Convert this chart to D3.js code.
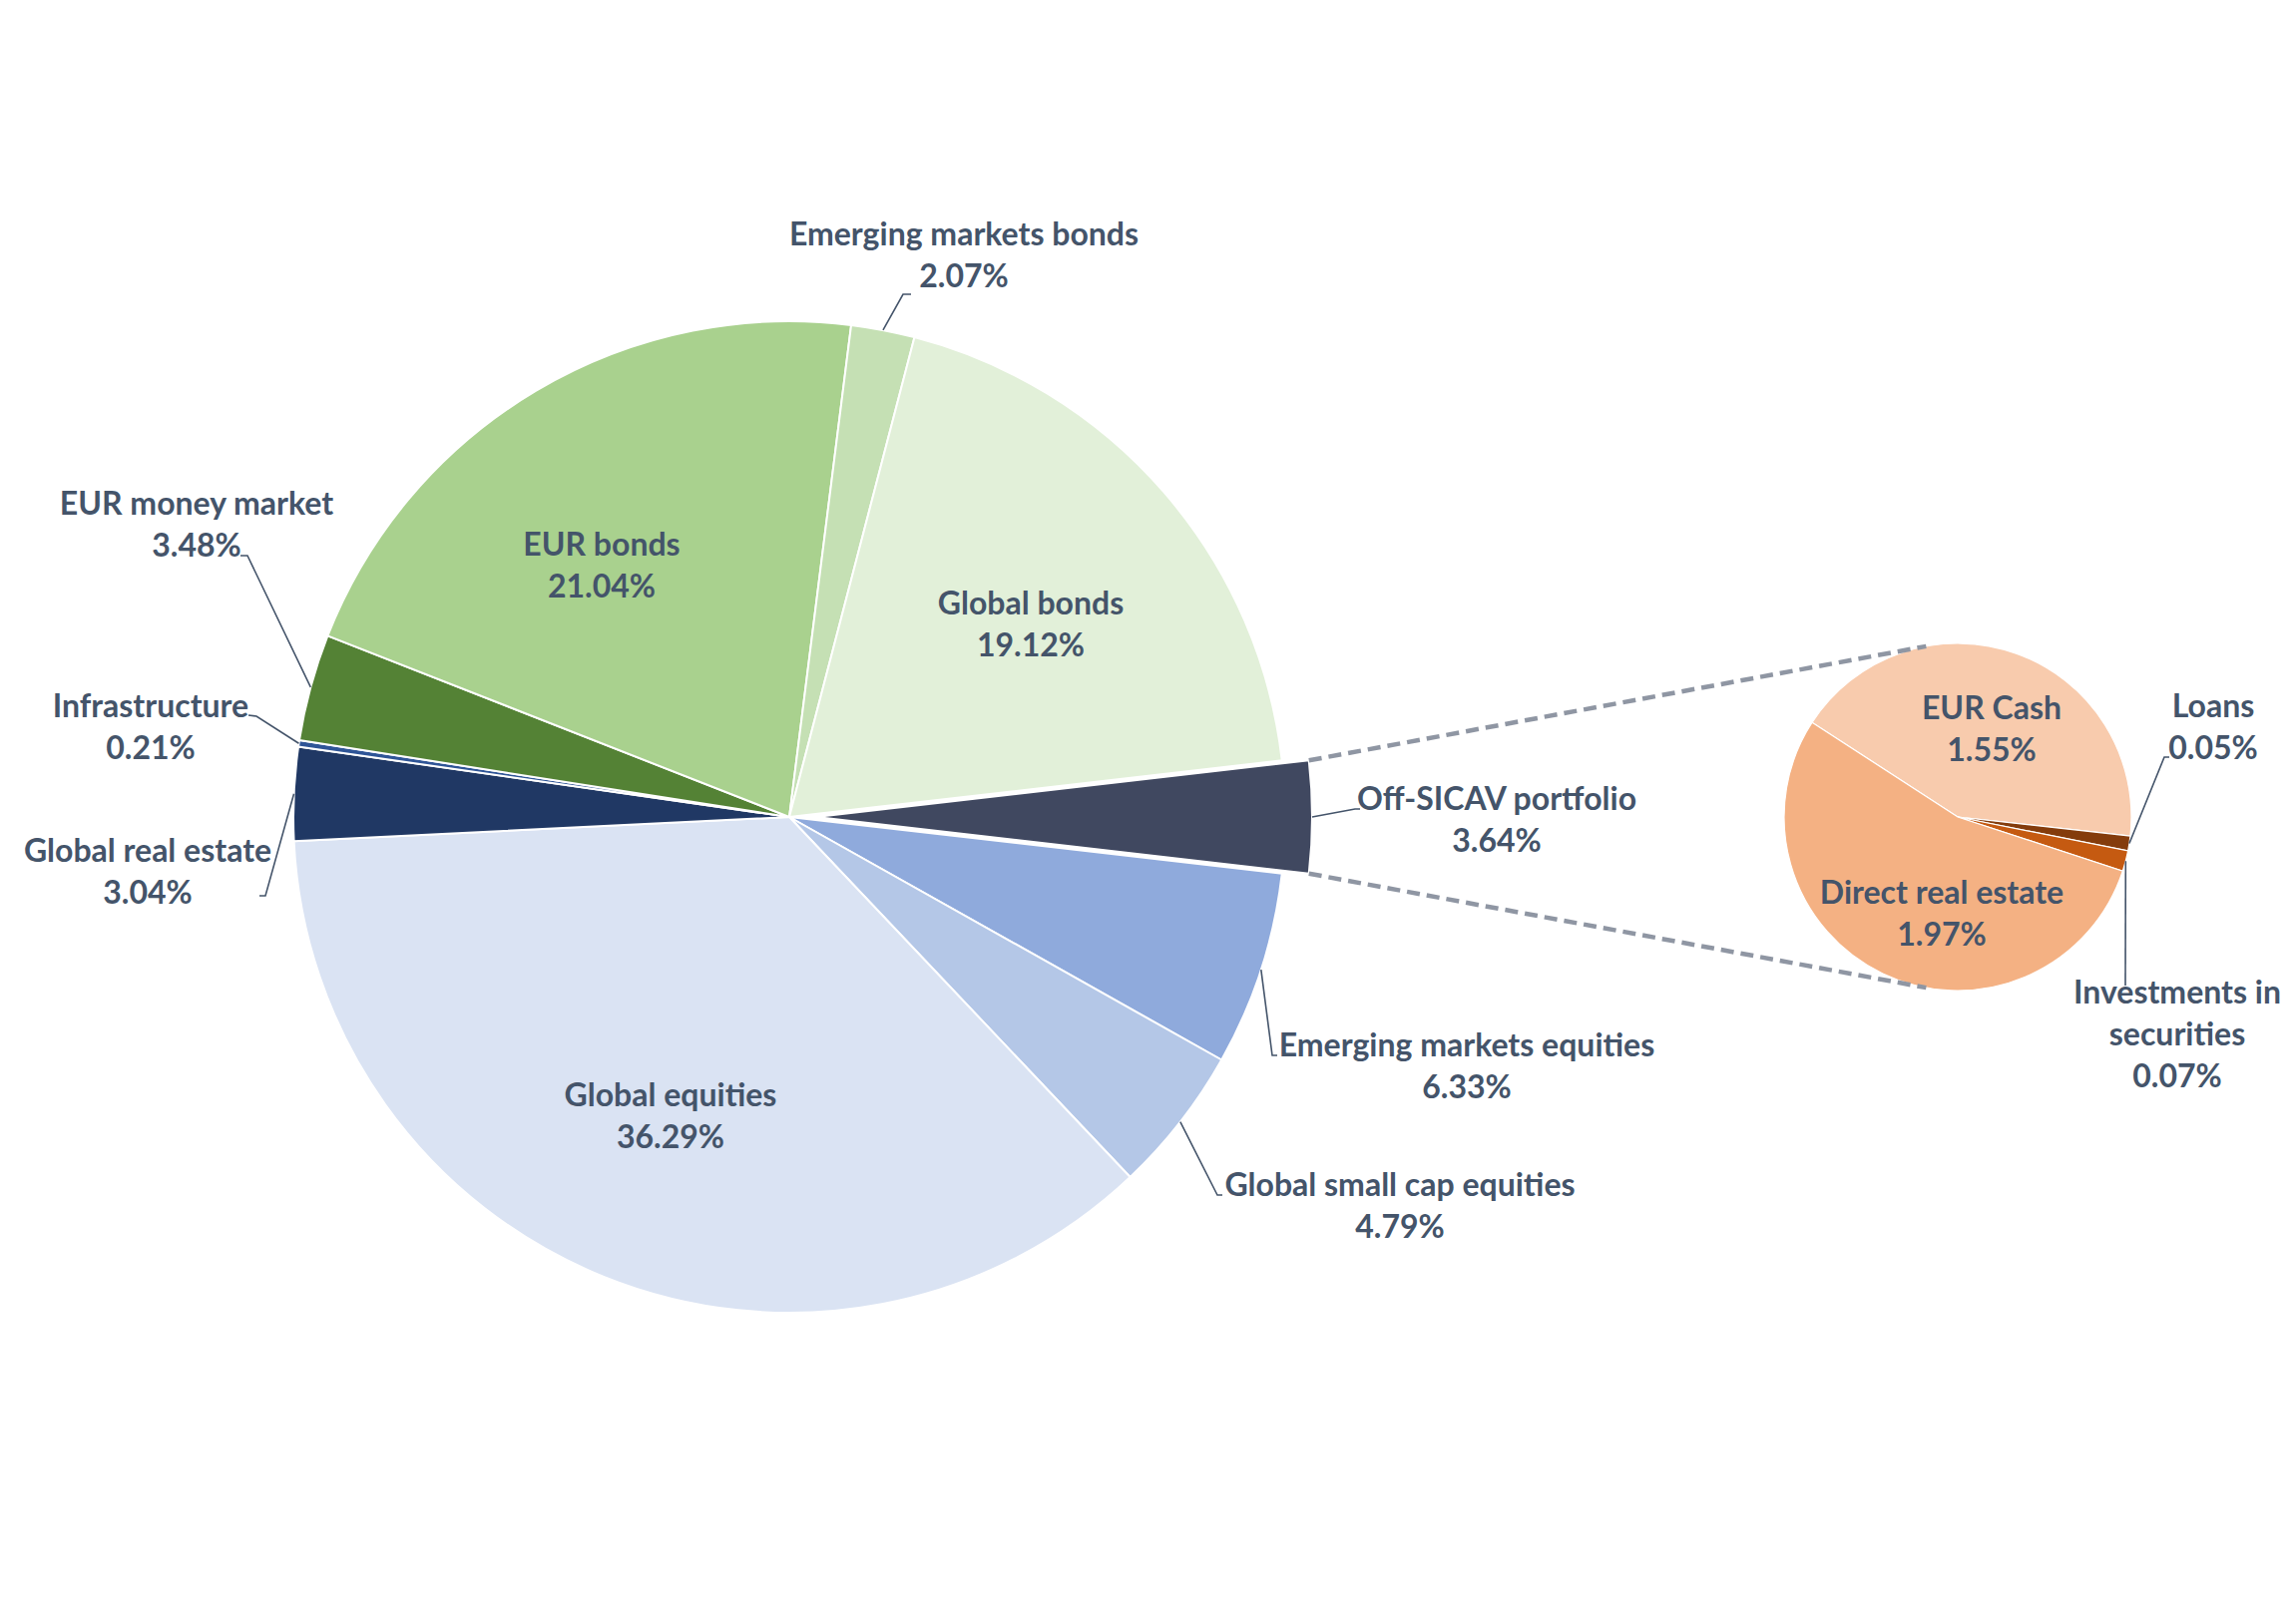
<!DOCTYPE html>
<html><head><meta charset="utf-8">
<script src="https://cdn.jsdelivr.net/npm/d3@7"></script>
<style>
body{margin:0;background:#fff}
svg text{font-family:Lato,'Open Sans',sans-serif;font-weight:700;fill:#44546a;font-size:32px}
</style>
</head><body>
<svg id="chart" width="2301" height="1615"></svg>
<script>
// ---------- DATA ----------
const mainCategories = ["Off-SICAV portfolio","Emerging markets equities","Global small cap equities","Global equities","Global real estate","Infrastructure","EUR money market","EUR bonds","Emerging markets bonds","Global bonds"];
const mainValues = [3.64, 6.33, 4.79, 36.29, 3.04, 0.21, 3.48, 21.04, 2.07, 19.12];
const subCategories = ["EUR Cash","Loans","Investments in securities","Direct real estate"];
const subValues = [1.55, 0.05, 0.07, 1.97];

// ---------- STYLE / LAYOUT ----------
const mainColors = ["#404860","#8faadc","#b4c7e7","#dae3f3","#203864","#2f5597","#548235","#a9d18e","#c5e0b4","#e2f0d9"];
const subColors = ["#f8cbad","#843c0c","#c55a11","#f4b183"];
const M = {cx:791, cy:819, r:497, explode:27};
const S = {cx:1962, cy:819, r:174, start:303};
const lineH = 42, baseOff = 11;
const labelLayout = {
  "Off-SICAV portfolio": {x:1500,y:801, elbow:[1358,811], end:[1363,811]},
  "Emerging markets equities": {x:1470,y:1048, elbow:[1275,1058], end:[1280,1058]},
  "Global small cap equities": {x:1403,y:1188, elbow:[1220,1198], end:[1225,1198]},
  "Global equities": {x:672,y:1098},
  "Global real estate": {x:148,y:853, elbow:[266,898], end:[260,898]},
  "Infrastructure": {x:151,y:708, elbow:[257,718], end:[249,717]},
  "EUR money market": {x:197,y:505, elbow:[248,557], end:[241,557]},
  "EUR bonds": {x:603,y:546},
  "Emerging markets bonds": {x:966,y:235, elbow:[905,295], end:[913,295]},
  "Global bonds": {x:1033,y:605},
  "EUR Cash": {x:1996,y:710},
  "Loans": {x:2218,y:708, elbow:[2169,759], end:[2174,759]},
  "Investments in securities": {x:2182,y:995, lines:["Investments in","securities"], elbow:[2130,988]},
  "Direct real estate": {x:1946,y:895}
};

const svg = d3.select("#chart");
svg.append("rect").attr("width",2301).attr("height",1615).attr("fill","#fff");
const fmt = v => v.toFixed(2) + "%";

// ---------- MAIN PIE ----------
const mainTotal = d3.sum(mainValues);
const mStart = Math.PI/2 - (mainValues[0]/mainTotal)*Math.PI;
const mainPie = d3.pie().sort(null).value(d=>d).startAngle(mStart).endAngle(mStart+2*Math.PI);
const mArcs = mainPie(mainValues);
const mArc = d3.arc().innerRadius(0).outerRadius(M.r);
const offsetOf = (a,i) => {
  const e = i===0 ? M.explode : 0, mid=(a.startAngle+a.endAngle)/2;
  return [e*Math.sin(mid), -e*Math.cos(mid)];
};
const gMain = svg.append("g").attr("transform",`translate(${M.cx},${M.cy})`);
gMain.selectAll("path").data(mArcs).join("path")
  .attr("d", mArc)
  .attr("transform",(a,i)=>{const o=offsetOf(a,i);return `translate(${o[0]},${o[1]})`;})
  .attr("fill",(a,i)=>mainColors[i])
  .attr("stroke","#fff").attr("stroke-width",2).attr("stroke-linejoin","round");

// ---------- SUB PIE ----------
const sStart = S.start*Math.PI/180;
const subPie = d3.pie().sort(null).value(d=>d).startAngle(sStart).endAngle(sStart+2*Math.PI);
const sArcs = subPie(subValues);
const sArc = d3.arc().innerRadius(0).outerRadius(S.r);
const gSub = svg.append("g").attr("transform",`translate(${S.cx},${S.cy})`);
gSub.selectAll("path").data(sArcs).join("path")
  .attr("d", sArc).attr("fill",(a,i)=>subColors[i])
  .attr("stroke","#fff").attr("stroke-width",1.2);

// ---------- CONNECTORS (tangents) ----------
const ex = offsetOf(mArcs[0],0);
const corner = ang => [M.cx+ex[0]+M.r*Math.sin(ang), M.cy+ex[1]-M.r*Math.cos(ang)];
function tangent(P, sign){
  const dx=P[0]-S.cx, dy=P[1]-S.cy, d=Math.hypot(dx,dy);
  const ang = Math.atan2(dy,dx) + sign*Math.acos(S.r/d);
  return [S.cx+S.r*Math.cos(ang), S.cy+S.r*Math.sin(ang)];
}
const pTop = corner(mArcs[0].startAngle), pBot = corner(mArcs[0].endAngle);
[[pTop,tangent(pTop,1)],[pBot,tangent(pBot,-1)]].forEach(([a,b])=>{
  svg.append("line").attr("x1",a[0]).attr("y1",a[1]).attr("x2",b[0]).attr("y2",b[1])
    .attr("stroke","#8f96a3").attr("stroke-width",4.5).attr("stroke-dasharray","13,7");
});

// ---------- LABELS ----------
function drawLabel(name, value, perimPt){
  const L = labelLayout[name];
  const lines = (L.lines || [name]).concat([fmt(value)]);
  if (L.elbow && perimPt){
    const pts = [perimPt, L.elbow]; if (L.end) pts.push(L.end);
    svg.append("path").attr("d", d3.line()(pts)).attr("fill","none")
      .attr("stroke","#44546a").attr("stroke-width",1.6);
  }
  const t = svg.append("text").attr("text-anchor","middle");
  lines.forEach((s,k)=>t.append("tspan").attr("x",L.x).attr("y",L.y+k*lineH+baseOff).text(s));
}
mArcs.forEach((a,i)=>{
  const mid=(a.startAngle+a.endAngle)/2, o=offsetOf(a,i);
  const p=[M.cx+o[0]+M.r*Math.sin(mid), M.cy+o[1]-M.r*Math.cos(mid)];
  drawLabel(mainCategories[i], mainValues[i], p);
});
sArcs.forEach((a,i)=>{
  const mid=(a.startAngle+a.endAngle)/2;
  const p=[S.cx+S.r*Math.sin(mid), S.cy-S.r*Math.cos(mid)];
  drawLabel(subCategories[i], subValues[i], p);
});
</script>
</body></html>
